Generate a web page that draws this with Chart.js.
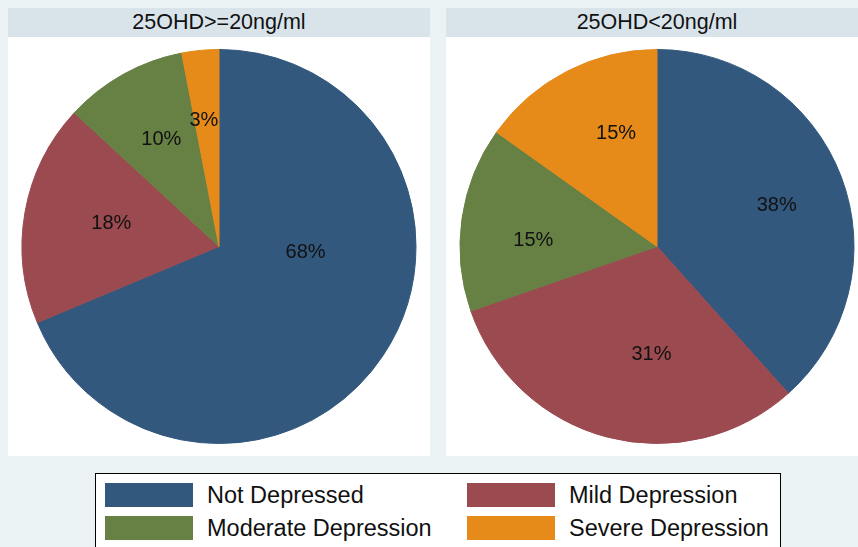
<!DOCTYPE html>
<html>
<head>
<meta charset="utf-8">
<script src="https://cdn.jsdelivr.net/npm/chart.js@4/dist/chart.umd.min.js"></script>
<style>
  html, body { margin: 0; padding: 0; }
  body {
    width: 858px; height: 547px; overflow: hidden; position: relative;
    background: #eaf2f3;
    font-family: "Liberation Sans", Arial, sans-serif; color: #111;
  }
  .panel { position: absolute; top: 8px; width: 422px; height: 448px; background: #fff; }
  .panel .head {
    position: absolute; left: 0; top: 0; width: 100%; height: 29px;
    background: #d8e4ea; text-align: center; line-height: 29px; font-size: 21.5px;
  }
  .panel canvas { position: absolute; left: 0; top: 29px; }
  #legend {
    position: absolute; left: 95px; top: 473px; width: 684px; height: 90px;
    background: #fff; border: 1.5px solid #000;
  }
  .key { position: absolute; height: 24px; }
  .key .sw { position: absolute; left: 0; top: 0; width: 88px; height: 24px; }
  .key .tx { position: absolute; left: 102px; top: 0; line-height: 24px; font-size: 23.5px; white-space: nowrap; }
</style>
</head>
<body>
<div class="panel" id="panelA" style="left:8px"><div class="head"></div><canvas id="pieA" width="422" height="419"></canvas></div>
<div class="panel" id="panelB" style="left:446px"><div class="head"></div><canvas id="pieB" width="422" height="419"></canvas></div>
<div id="legend"></div>

<script>
// Depression status shares (%) by vitamin D group
const categories = ['Not Depressed', 'Mild Depression', 'Moderate Depression', 'Severe Depression'];
const groupTitles = ['25OHD>=20ng/ml', '25OHD<20ng/ml'];
const sufficientPct = [68, 18, 10, 3];
const deficientPct = [38, 31, 15, 15];

// Slice colours, in category order
const sliceColors = ['#33587d', '#9b4a50', '#678144', '#e68a1a'];

// Where each percentage label sits: turn (degrees, clockwise) away from the
// slice's mid-angle, and distance from the centre as a share of the radius
const labelSpots = {
  pieA: [{ turn: -30.5, r: 0.44 }, { turn: 2.7, r: 0.56 }, { turn: 1.2, r: 0.626 }, { turn: -1.3, r: 0.654 }],
  pieB: [{ turn: 1.5, r: 0.644 }, { turn: -11.6, r: 0.543 }, { turn: -4.6, r: 0.629 }, { turn: 7.6, r: 0.617 }]
};

const pctLabels = {
  id: 'pctLabels',
  afterDatasetsDraw(chart) {
    const ctx = chart.ctx;
    const spots = labelSpots[chart.canvas.id];
    const values = chart.data.datasets[0].data;
    const meta = chart.getDatasetMeta(0);
    ctx.save();
    ctx.font = '20px "Liberation Sans", Arial, sans-serif';
    ctx.fillStyle = '#111';
    ctx.textAlign = 'center';
    ctx.textBaseline = 'middle';
    meta.data.forEach((arc, i) => {
      const p = arc.getProps(['x', 'y', 'startAngle', 'endAngle', 'outerRadius'], true);
      const a = (p.startAngle + p.endAngle) / 2 + spots[i].turn * Math.PI / 180;
      const d = spots[i].r * p.outerRadius;
      // digits sit a touch below the em-box middle
      ctx.fillText(values[i] + '%', p.x + Math.cos(a) * d, p.y + Math.sin(a) * d + 1.5);
    });
    ctx.restore();
  }
};

function drawPie(canvasId, values) {
  return new Chart(document.getElementById(canvasId), {
    type: 'pie',
    data: {
      labels: categories,
      datasets: [{
        data: values,
        backgroundColor: sliceColors,
        borderColor: sliceColors,
        borderWidth: 1
      }]
    },
    options: {
      responsive: false,
      maintainAspectRatio: false,
      animation: false,
      layout: { padding: { top: 12, bottom: 12, left: 0, right: 0 } },
      plugins: { legend: { display: false }, tooltip: { enabled: false } }
    },
    plugins: [pctLabels]
  });
}

document.querySelector('#panelA .head').textContent = groupTitles[0];
document.querySelector('#panelB .head').textContent = groupTitles[1];
drawPie('pieA', sufficientPct);
drawPie('pieB', deficientPct);

// Shared legend: two columns, filled row by row
const legend = document.getElementById('legend');
categories.forEach((name, i) => {
  const key = document.createElement('div');
  key.className = 'key';
  key.style.left = (i % 2 === 0 ? 9 : 371) + 'px';
  key.style.top = (i < 2 ? 9 : 42) + 'px';
  const sw = document.createElement('div');
  sw.className = 'sw';
  sw.style.background = sliceColors[i];
  const tx = document.createElement('div');
  tx.className = 'tx';
  tx.textContent = name;
  key.appendChild(sw);
  key.appendChild(tx);
  legend.appendChild(key);
});
</script>
</body>
</html>
